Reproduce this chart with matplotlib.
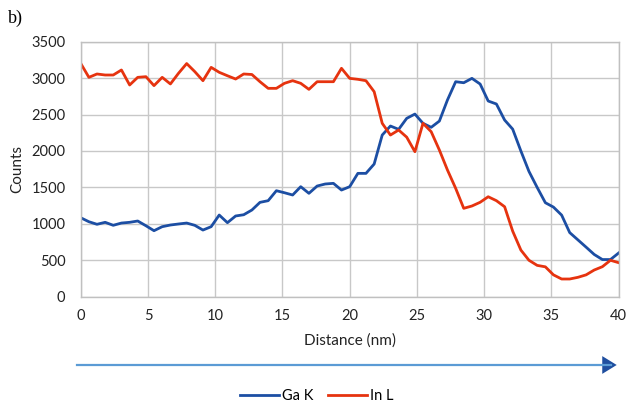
import matplotlib
matplotlib.use('Agg')
import matplotlib.pyplot as plt
from matplotlib.lines import Line2D
from matplotlib.patches import FancyArrowPatch

# distance along the line scan (nm)
distance = [0.0, 0.61, 1.21, 1.82, 2.42, 3.03, 3.64, 4.24, 4.85, 5.45, 6.06, 6.67, 7.27, 7.88,
            8.48, 9.09, 9.7, 10.3, 10.91, 11.52, 12.12, 12.73, 13.33, 13.94, 14.55, 15.15,
            15.76, 16.36, 16.97, 17.58, 18.18, 18.79, 19.39, 20.0, 20.61, 21.21, 21.82, 22.42,
            23.03, 23.64, 24.24, 24.85, 25.45, 26.06, 26.67, 27.27, 27.88, 28.48, 29.09, 29.7,
            30.3, 30.91, 31.52, 32.12, 32.73, 33.33, 33.94, 34.55, 35.15, 35.76, 36.36, 36.97,
            37.58, 38.18, 38.79, 39.39, 40.0]

ga_k = [1084, 1029, 994, 1021, 980, 1011, 1021, 1039, 974, 906, 961, 984, 998, 1011,
        980, 915, 961, 1121, 1016, 1108, 1125, 1190, 1295, 1318, 1455, 1427,
        1396, 1510, 1419, 1519, 1547, 1556, 1464, 1510, 1693, 1693, 1821, 2219,
        2343, 2297, 2448, 2507, 2380, 2325, 2411, 2700, 2951, 2937, 2997, 2919,
        2686, 2645, 2425, 2300, 2000, 1720, 1500, 1290, 1230, 1120, 880, 780,
        680, 580, 510, 510, 600]

in_l = [3203, 3011, 3057, 3043, 3043, 3112, 2906, 3011, 3020, 2897, 3011, 2920, 3066, 3200,
        3090, 2965, 3148, 3080, 3033, 2988, 3057, 3050, 2951, 2860, 2860, 2929,
        2965, 2929, 2846, 2951, 2951, 2951, 3135, 2997, 2984, 2965, 2814, 2380,
        2219, 2288, 2190, 1990, 2380, 2265, 2013, 1739, 1488, 1213, 1245, 1296,
        1372, 1318, 1235, 900, 640, 500, 430, 410, 300, 243, 243, 266,
        300, 366, 412, 500, 467]

x_ticks = [0, 5, 10, 15, 20, 25, 30, 35, 40]
y_ticks = [0, 500, 1000, 1500, 2000, 2500, 3000, 3500]

blue = '#1c4ea3'
red = '#e6330f'

plt.rcParams['font.family'] = ['Lato', 'DejaVu Sans']

fig = plt.figure(figsize=(6.27, 4.05), dpi=100)
ax = fig.add_axes([0.1287, 0.2674, 0.858, 0.6296])

ax.plot(distance, ga_k, color=blue, lw=2.0, solid_joinstyle='round')
ax.plot(distance, in_l, color=red, lw=2.0, solid_joinstyle='round')

ax.set_xlim(0, 40)
ax.set_ylim(0, 3500)
ax.set_xticks(x_ticks)
ax.set_yticks(y_ticks)
ax.grid(True, color='#c8c8c8', lw=1.0)
ax.set_axisbelow(True)
for s in ax.spines.values():
    s.set_color('#c0c0c0')
    s.set_linewidth(1.0)
ax.tick_params(length=0, labelsize=10.5, colors='#222222')
ax.tick_params(axis='y', pad=11)
ax.tick_params(axis='x', pad=9)

ax.set_ylabel('Counts', fontsize=11, color='#222222', labelpad=5)
ax.set_xlabel('Distance (nm)', fontsize=11, color='#222222', labelpad=7)

fig.text(0.012, 0.975, 'b)', family='Liberation Serif', fontsize=13, va='top', ha='left')

# scan direction arrow
fig.add_artist(Line2D([0.123, 0.975], [0.0988, 0.0988], color='#5b9bd5', lw=1.6))
fig.add_artist(FancyArrowPatch((0.968, 0.0988), (0.988, 0.0988), transform=fig.transFigure,
                               arrowstyle='-|>,head_length=0.65,head_width=0.4',
                               mutation_scale=16, color='#1f4e9f', lw=0))

handles = [Line2D([], [], color=blue, lw=2.0), Line2D([], [], color=red, lw=2.0)]
fig.legend(handles, ['Ga K', 'In L'], loc='center', bbox_to_anchor=(0.505, 0.022),
           ncol=2, frameon=False, fontsize=10.5, handlelength=2.7, handletextpad=0.2,
           columnspacing=1.0)

fig.savefig('out.png', dpi=100)
